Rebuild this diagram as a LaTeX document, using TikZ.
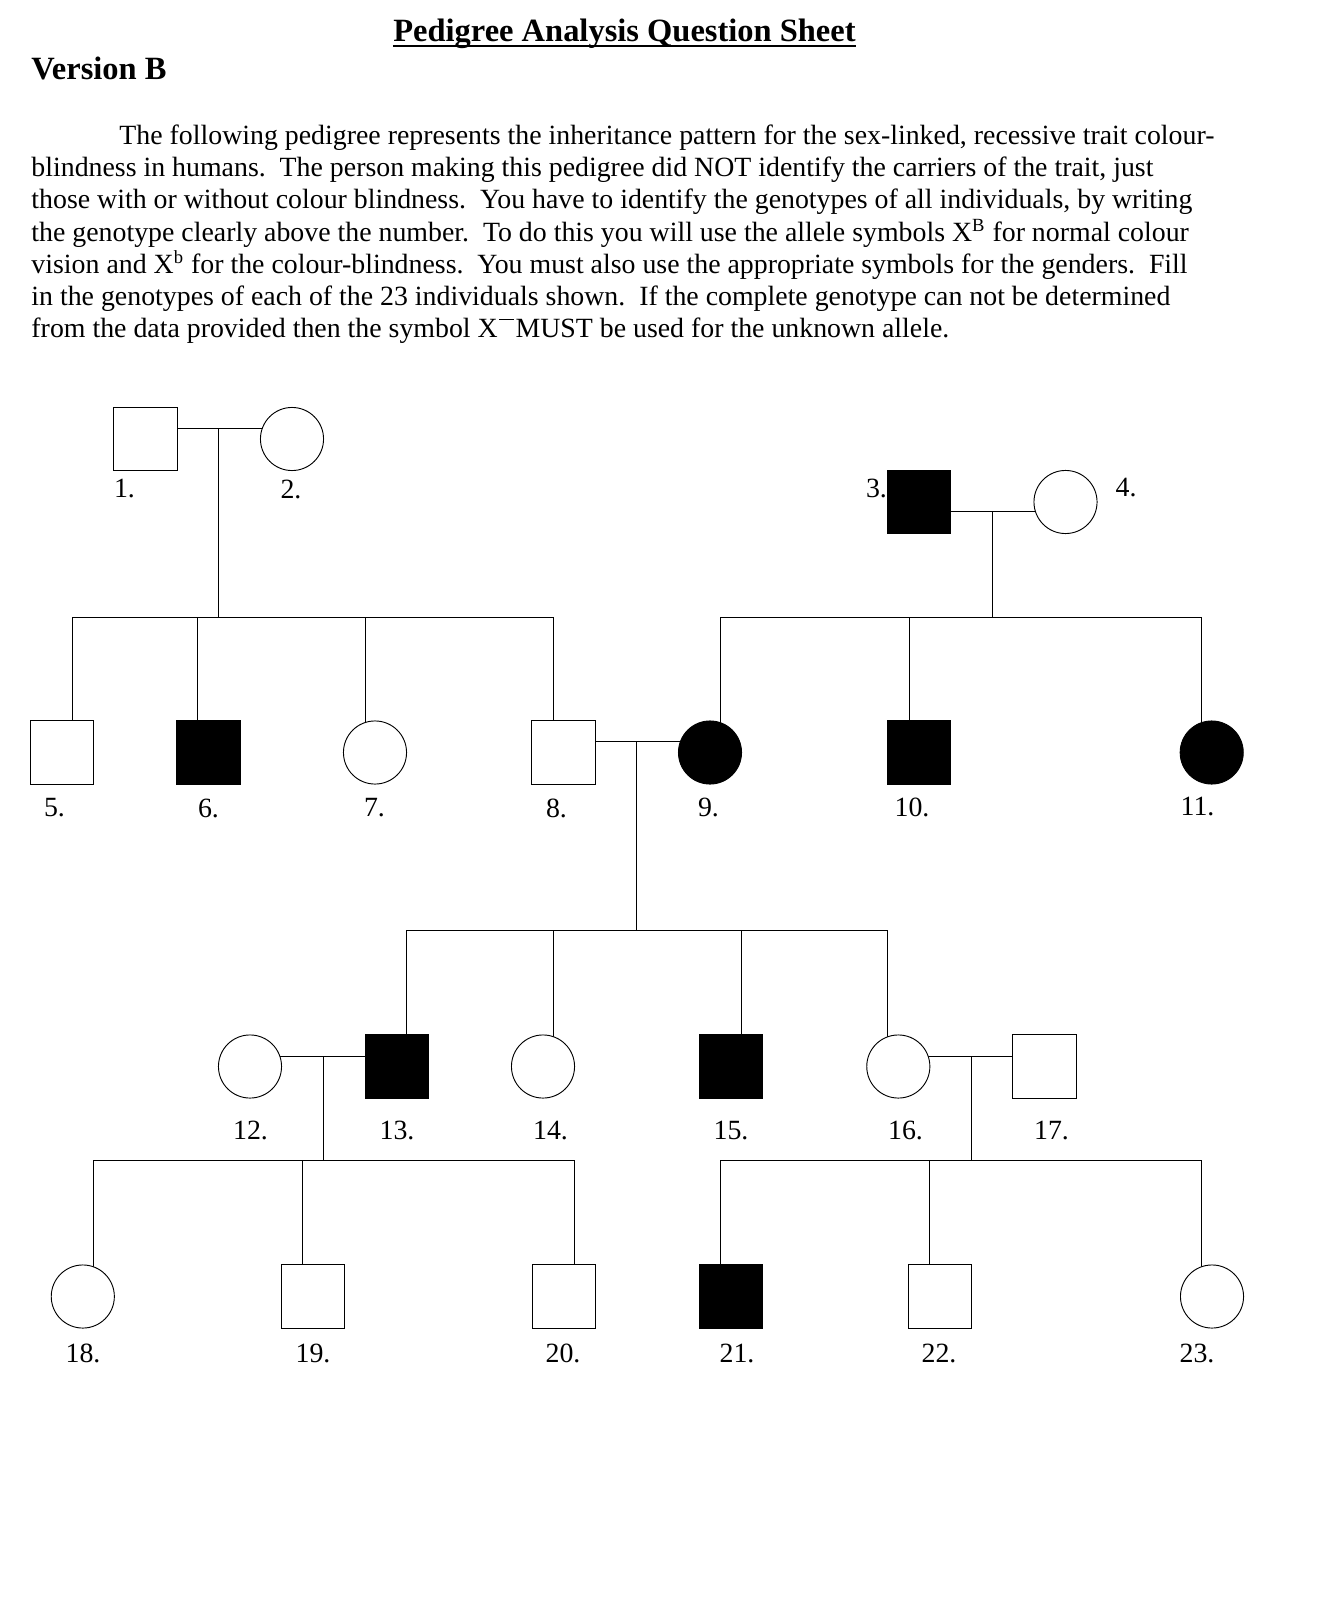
\documentclass[tikz,border=0pt]{standalone}
\usepackage{fontspec}
\setmainfont{Liberation Serif}
\usetikzlibrary{calc}
\pgfdeclarelayer{background}
\pgfdeclarelayer{paper}
\pgfsetlayers{paper,background,main}
\begin{document}
\begin{tikzpicture}[x=0.431pt,y=-0.431pt,line width=0.75pt,
  male/.style={draw,rectangle,minimum size=27.2pt,inner sep=0pt,fill=white},
  female/.style={draw,circle,minimum size=27.2pt,inner sep=0pt,fill=white},
  aff/.style={fill=black},
  lbl/.style={inner sep=0pt,font=\fontsize{12}{14}\selectfont},
  body/.style={anchor=base west,inner sep=0pt,font=\fontsize{12}{14}\selectfont},
  head/.style={inner sep=0pt,font=\fontsize{14}{16}\selectfont\bfseries}]
\begin{pgfonlayer}{paper}
\fill[white] (0,0) rectangle (1335,1600);
\end{pgfonlayer}
\useasboundingbox (0,0) rectangle (1335,1600);

% heading
\node[head,anchor=base] (title) at (624.5,41.7) {Pedigree Analysis Question Sheet};
\draw[line width=0.7pt] ([yshift=-1.85pt]title.base west) -- ([yshift=-1.85pt]title.base east);
\node[head,anchor=base west] (ver) at (31,79.3) {Version B};

% paragraph
\node[body] (p1) at (119,144.6) {The following pedigree represents the inheritance pattern for the sex-linked, recessive trait colour-};
\node[body] (p2) at (31,176.8) {blindness in humans.\ \ The person making this pedigree did NOT identify the carriers of the trait, just};
\node[body] (p3) at (31,209.0) {those with or without colour blindness.\ \ You have to identify the genotypes of all individuals, by writing};
\node[body] (p4) at (31,241.2) {the genotype clearly above the number.\ \ To do this you will use the allele symbols X\textsuperscript{B} for normal colour};
\node[body] (p5) at (31,273.4) {vision and X\textsuperscript{b} for the colour-blindness.\ \ You must also use the appropriate symbols for the genders.\ \ Fill};
\node[body] (p6) at (31,305.6) {in the genotypes of each of the 23 individuals shown.\ \ If the complete genotype can not be determined};
\node[body] (p7) at (31,337.8) {from the data provided then the symbol X\kern0.6pt\rule[7.7pt]{6.5pt}{0.5pt}\kern0.6pt MUST be used for the unknown allele.};

% individuals
\node[male] (n1) at (145.5,439) {};
\node[female] (n2) at (292,439) {};
\node[male,aff] (n3) at (919,502) {};
\node[female] (n4) at (1065.5,502) {};
\node[male] (n5) at (62,752.5) {};
\node[male,aff] (n6) at (208.5,752.5) {};
\node[female] (n7) at (375,752.5) {};
\node[male] (n8) at (563.5,752.5) {};
\node[female,aff] (n9) at (710,752.5) {};
\node[male,aff] (n10) at (919,752.5) {};
\node[female,aff] (n11) at (1211.7,752.5) {};
\node[female] (n12) at (250,1066.5) {};
\node[male,aff] (n13) at (396.6,1066.5) {};
\node[female] (n14) at (543,1066.5) {};
\node[male,aff] (n15) at (731,1066.5) {};
\node[female] (n16) at (898.3,1066.5) {};
\node[male] (n17) at (1044.5,1066.5) {};
\node[female] (n18) at (82.8,1296.5) {};
\node[male] (n19) at (313,1296.5) {};
\node[male] (n20) at (563.7,1296.5) {};
\node[male,aff] (n21) at (731,1296.5) {};
\node[male] (n22) at (940,1296.5) {};
\node[female] (n23) at (1212,1296.5) {};

% labels
\node[lbl] (l1) at (124.5,489) {1.};
\node[lbl] (l2) at (291,489) {2.};
\node[lbl] (l3) at (876.5,488) {3.};
\node[lbl] (l4) at (1126,488) {4.};
\node[lbl] (l5) at (54.5,808) {5.};
\node[lbl] (l6) at (208.5,808) {6.};
\node[lbl] (l7) at (374.5,808) {7.};
\node[lbl] (l8) at (556.5,808) {8.};
\node[lbl] (l9) at (708.5,807) {9.};
\node[lbl] (l10) at (912,807) {10.};
\node[lbl] (l11) at (1197.5,807) {11.};
\node[lbl] (l12) at (250.5,1130) {12.};
\node[lbl] (l13) at (397,1130) {13.};
\node[lbl] (l14) at (550.5,1130) {14.};
\node[lbl] (l15) at (731,1130) {15.};
\node[lbl] (l16) at (905.5,1130) {16.};
\node[lbl] (l17) at (1051.5,1130) {17.};
\node[lbl] (l18) at (83,1353) {18.};
\node[lbl] (l19) at (313,1353) {19.};
\node[lbl] (l20) at (563,1353) {20.};
\node[lbl] (l21) at (737,1353) {21.};
\node[lbl] (l22) at (939,1353) {22.};
\node[lbl] (l23) at (1197,1353) {23.};

% mating / sibship points
\coordinate (m12) at (218.3,428.3);   \coordinate (c12) at (218.3,617);
\coordinate (d5) at (72.3,617);  \coordinate (d6) at (197.8,617);
\coordinate (d7) at (365.2,617); \coordinate (d8) at (553.6,617);
\coordinate (m34) at (992,511.7);     \coordinate (c34) at (992,617);
\coordinate (d9) at (720,617);   \coordinate (d10) at (909,617);
\coordinate (d11) at (1201.3,617);
\coordinate (m89) at (636,741.7);     \coordinate (c89) at (636,930);
\coordinate (d13) at (406.7,930); \coordinate (d14) at (553.6,930);
\coordinate (d15) at (741.7,930); \coordinate (d16) at (887.7,930);
\coordinate (m1213) at (323.2,1056);  \coordinate (c1213) at (323.2,1160);
\coordinate (d18) at (93.3,1160); \coordinate (d19) at (302.7,1160);
\coordinate (d20) at (574,1160);
\coordinate (m1617) at (971.5,1056);  \coordinate (c1617) at (971.5,1160);
\coordinate (d21) at (720.3,1160); \coordinate (d22) at (929.6,1160);
\coordinate (d23) at (1201.3,1160);

\begin{pgfonlayer}{background}
  % couple 1-2
  \draw (n1.center |- m12) -- (n2.center |- m12);
  \draw (m12) -- (c12);
  \draw (d5) -- (d8);
  \foreach \d/\n in {d5/n5,d6/n6,d7/n7,d8/n8} \draw (\d) -- (\d |- \n.center);
  % couple 3-4
  \draw (n3.center |- m34) -- (n4.center |- m34);
  \draw (m34) -- (c34);
  \draw (d9) -- (d11);
  \foreach \d/\n in {d9/n9,d10/n10,d11/n11} \draw (\d) -- (\d |- \n.center);
  % couple 8-9
  \draw (n8.center |- m89) -- (n9.center |- m89);
  \draw (m89) -- (c89);
  \draw (d13) -- (d16);
  \foreach \d/\n in {d13/n13,d14/n14,d15/n15,d16/n16} \draw (\d) -- (\d |- \n.center);
  % couple 12-13
  \draw (n12.center |- m1213) -- (n13.center |- m1213);
  \draw (m1213) -- (c1213);
  \draw (d18) -- (d20);
  \foreach \d/\n in {d18/n18,d19/n19,d20/n20} \draw (\d) -- (\d |- \n.center);
  % couple 16-17
  \draw (n16.center |- m1617) -- (n17.center |- m1617);
  \draw (m1617) -- (c1617);
  \draw (d21) -- (d23);
  \foreach \d/\n in {d21/n21,d22/n22,d23/n23} \draw (\d) -- (\d |- \n.center);
\end{pgfonlayer}
\end{tikzpicture}
\end{document}
